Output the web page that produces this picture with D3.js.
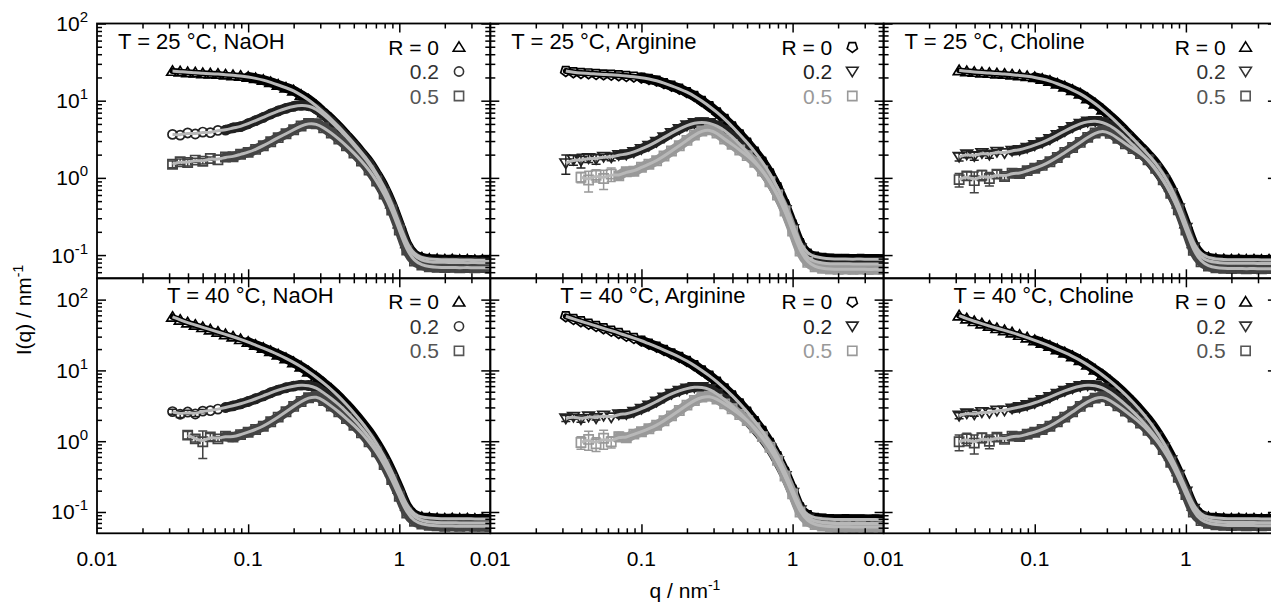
<!DOCTYPE html>
<html><head><meta charset="utf-8">
<script src="https://cdn.jsdelivr.net/npm/d3@7"></script>
<style>
body{margin:0;background:#fff;}
text{font-family:Arial,"Liberation Sans",Helvetica,sans-serif;}
</style></head><body>
<svg id="c" width="1271" height="608"></svg>
<script>
// ---------------- DATA ----------------
const q = [0.0316,0.0355,0.0398,0.0447,0.0501,0.0562,0.0631,0.0708,0.0794,0.0891,0.1,0.112,0.126,0.141,0.158,0.178,0.2,0.224,0.251,0.282,0.316,0.355,0.398,0.447,0.501,0.562,0.631,0.708,0.794,0.891,1.0,1.12,1.26,1.41,1.58,1.78,2.0,2.24,2.51,2.82,3.16,3.55,3.98,4.3];

const naoh25_R0  = [24.2,23.8,23.3,23.1,22.6,22.4,22.2,21.7,21.3,20.9,20.3,19.5,18.5,17.3,16.0,14.7,13.5,11.8,10.3,8.61,7.06,5.78,4.60,3.59,2.80,2.14,1.62,1.14,0.769,0.468,0.257,0.142,0.102,0.0923,0.0887,0.0878,0.0869,0.0874,0.0862,0.0866,0.0858,0.0861,0.0853,0.0856];
const naoh25_R02 = [3.66,3.58,3.82,3.70,3.92,3.85,4.12,4.16,4.44,4.62,5.03,5.51,6.09,6.72,7.35,7.96,8.45,8.71,8.61,7.80,6.52,5.35,4.30,3.38,2.64,2.02,1.53,1.08,0.716,0.435,0.240,0.132,0.0951,0.0853,0.0819,0.0803,0.0808,0.0799,0.0803,0.0796,0.0801,0.0794,0.0798,0.0792];
const naoh25_R05 = [1.50,1.62,1.58,1.70,1.64,1.78,1.72,1.86,1.88,2.02,2.14,2.34,2.61,2.94,3.32,3.73,4.21,4.70,5.08,5.03,4.47,3.81,3.18,2.61,2.10,1.65,1.26,0.910,0.617,0.383,0.211,0.116,0.0836,0.0741,0.0706,0.0695,0.0688,0.0692,0.0685,0.0690,0.0683,0.0688,0.0681,0.0686];
const naoh25_R05_err = [0.1,0.08,0.1,0.06,0.08,0.05];

const naoh40_R0  = [56.9,51.6,47.3,43.8,40.6,37.6,34.9,32.3,29.9,27.5,25.2,22.8,20.7,18.6,16.7,14.8,13.0,11.3,9.58,8.05,6.62,5.39,4.29,3.30,2.52,1.88,1.36,0.937,0.614,0.376,0.214,0.123,0.0917,0.0841,0.0823,0.0808,0.0802,0.0806,0.0799,0.0803,0.0796,0.0800,0.0794,0.0798];
const naoh40_R02 = [2.62,2.40,2.58,2.42,2.66,2.70,2.84,2.99,3.16,3.37,3.64,3.97,4.38,4.83,5.27,5.69,6.00,6.20,6.13,5.69,4.83,4.02,3.30,2.60,2.03,1.55,1.14,0.805,0.532,0.330,0.192,0.110,0.0841,0.0754,0.0721,0.0708,0.0702,0.0706,0.0699,0.0703,0.0697,0.0701,0.0695,0.0699];
const naoh40_R02_err = [0.08,0.1,0.06,0.08,0.05];
const naoh40_R05 = [null,null,1.22,1.08,0.98,1.15,1.08,1.18,1.14,1.24,1.34,1.46,1.63,1.88,2.19,2.60,3.10,3.64,4.10,4.29,3.76,3.13,2.60,2.09,1.68,1.31,0.979,0.706,0.468,0.287,0.167,0.0968,0.0738,0.0676,0.0647,0.0636,0.0630,0.0634,0.0628,0.0632,0.0626,0.0630,0.0624,0.0628];
const naoh40_R05_err = [0,0,0.12,0.1,0.42,0.12,0.08,0.06];

const arg25_R0  = [24.2,23.3,22.8,22.6,22.2,21.9,21.7,21.3,20.9,20.5,19.9,19.1,18.2,16.9,15.6,14.3,12.9,11.5,9.90,8.45,7.06,5.78,4.65,3.66,2.86,2.18,1.62,1.14,0.754,0.454,0.249,0.142,0.104,0.0951,0.0914,0.0896,0.0887,0.0891,0.0884,0.0888,0.0881,0.0885,0.0879,0.0883];
const arg25_R02 = [1.55,1.72,1.68,1.80,1.76,1.88,1.85,1.98,2.02,2.16,2.37,2.61,2.94,3.35,3.81,4.30,4.79,5.14,5.24,5.14,4.74,4.13,3.41,2.72,2.14,1.65,1.25,0.902,0.611,0.383,0.217,0.122,0.0906,0.0819,0.0787,0.0773,0.0768,0.0772,0.0766,0.0770,0.0764,0.0768,0.0762,0.0766];
const arg25_R02_err = [0.28,0.15,0.2,0.12,0.15,0.08,0.1,0.06];
const arg25_R05 = [null,null,1.02,0.94,1.08,0.98,1.12,1.06,1.20,1.22,1.37,1.50,1.67,1.92,2.23,2.61,3.06,3.59,4.05,4.21,3.81,3.18,2.72,2.30,1.94,1.59,1.23,0.892,0.600,0.372,0.205,0.113,0.0803,0.0706,0.0672,0.0661,0.0655,0.0659,0.0652,0.0657,0.0650,0.0655,0.0648,0.0653];
const arg25_R05_err = [0,0,0.15,0.3,0.18,0.28,0.2,0.12,0.1,0.08];

const arg40_R0  = [58.1,53.3,49.4,45.7,42.4,39.3,36.4,33.7,30.9,28.7,26.3,23.8,21.6,19.4,17.4,15.5,13.6,11.8,10.0,8.41,6.92,5.56,4.43,3.41,2.60,1.92,1.39,0.947,0.614,0.368,0.207,0.116,0.0897,0.0823,0.0805,0.0790,0.0784,0.0788,0.0781,0.0786,0.0779,0.0783,0.0777,0.0781];
const arg40_R02 = [2.10,2.22,2.05,2.24,2.12,2.30,2.18,2.40,2.42,2.60,2.87,3.20,3.64,4.15,4.68,5.15,5.56,5.81,5.81,5.44,4.68,3.89,3.16,2.52,1.96,1.50,1.11,0.787,0.521,0.323,0.186,0.106,0.0805,0.0738,0.0706,0.0694,0.0688,0.0692,0.0685,0.0690,0.0683,0.0688,0.0681,0.0686];
const arg40_R02_err = [0.1,0.08,0.1,0.06,0.06];
const arg40_R05 = [null,null,0.96,1.06,0.92,1.10,0.98,1.16,1.12,1.26,1.36,1.50,1.68,1.94,2.28,2.72,3.23,3.76,4.20,4.33,3.93,3.37,2.87,2.38,1.96,1.55,1.16,0.822,0.538,0.323,0.180,0.100,0.0738,0.0662,0.0634,0.0622,0.0616,0.0620,0.0613,0.0618,0.0611,0.0616,0.0609,0.0614];
const arg40_R05_err = [0,0,0.2,0.3,0.22,0.3,0.18,0.15,0.1,0.08];

const cho25_R0  = [24.7,24.0,23.5,23.1,22.8,22.4,22.2,21.7,21.3,20.7,20.1,19.1,18.0,16.6,15.2,13.7,12.3,10.7,9.14,7.64,6.27,5.08,4.05,3.22,2.56,2.02,1.56,1.13,0.769,0.468,0.257,0.142,0.102,0.0923,0.0887,0.0876,0.0870,0.0873,0.0866,0.0870,0.0863,0.0867,0.0860,0.0864];
const cho25_R02 = [1.88,2.02,1.92,2.10,2.00,2.18,2.10,2.25,2.30,2.46,2.66,2.88,3.18,3.59,4.05,4.56,5.03,5.35,5.45,5.24,4.74,4.05,3.32,2.66,2.14,1.69,1.28,0.929,0.636,0.403,0.226,0.126,0.0923,0.0836,0.0803,0.0788,0.0782,0.0786,0.0779,0.0784,0.0777,0.0781,0.0775,0.0779];
const cho25_R02_err = [0.12,0.1,0.12,0.08,0.1,0.06];
const cho25_R05 = [0.95,1.06,0.92,1.08,0.98,1.12,1.04,1.15,1.14,1.24,1.33,1.45,1.62,1.84,2.14,2.48,2.88,3.35,3.81,4.08,3.77,3.25,2.77,2.39,2.06,1.72,1.33,0.946,0.630,0.387,0.211,0.115,0.0819,0.0720,0.0685,0.0674,0.0668,0.0672,0.0665,0.0670,0.0663,0.0668,0.0661,0.0666];
const cho25_R05_err = [0.2,0.12,0.3,0.15,0.2,0.12,0.1,0.08];

const cho40_R0  = [59.4,53.8,49.4,45.7,42.4,39.3,36.8,34.1,31.6,29.0,26.6,24.4,22.1,19.8,17.8,15.8,13.9,12.0,10.2,8.59,7.06,5.74,4.57,3.56,2.72,2.03,1.45,0.979,0.627,0.376,0.214,0.123,0.0917,0.0841,0.0823,0.0808,0.0802,0.0806,0.0799,0.0803,0.0796,0.0800,0.0794,0.0798];
const cho40_R02 = [2.30,2.48,2.40,2.58,2.52,2.70,2.72,2.90,3.03,3.23,3.48,3.80,4.20,4.68,5.15,5.62,6.00,6.20,6.13,5.69,4.89,4.06,3.30,2.63,2.05,1.56,1.15,0.813,0.538,0.334,0.194,0.111,0.0849,0.0762,0.0729,0.0715,0.0709,0.0713,0.0706,0.0711,0.0704,0.0708,0.0702,0.0706];
const cho40_R02_err = [0.1,0.08,0.06];
const cho40_R05 = [0.98,1.08,0.94,1.12,1.00,1.14,1.06,1.18,1.16,1.26,1.34,1.46,1.63,1.88,2.19,2.60,3.10,3.61,4.06,4.24,3.76,3.16,2.66,2.19,1.80,1.42,1.07,0.762,0.505,0.310,0.176,0.100,0.0754,0.0692,0.0660,0.0650,0.0643,0.0647,0.0640,0.0645,0.0638,0.0642,0.0636,0.0641];
const cho40_R05_err = [0.25,0.2,0.3,0.15,0.22,0.12,0.1,0.08];

const titles = ["T = 25 °C, NaOH","T = 25 °C, Arginine","T = 25 °C, Choline","T = 40 °C, NaOH","T = 40 °C, Arginine","T = 40 °C, Choline"];
const legendLabels = ["R = 0","0.2","0.5"];
const xTickValues = [0.01,0.1,1];
const xTickLabels = ["0.01","0.1","1"];
const yTickExps = [2,1,0,-1];
const xDomain = [0.01,4];
const yDomainTop = [0.05,100];
const yDomainBottom = [0.05,200];

// ---------------- STYLE / LAYOUT ----------------
const W=1271,H=608;
const colX=[97,490.3,883.6], panelW=393.3;
const rowY=[[23.5,278.3],[278.3,533.3]];
const C0="#000", C2="#222", C5="#444", C5L="#999";
const FIT="#b8b8b8";
const svg=d3.select("#c");
svg.append("rect").attr("width",W).attr("height",H).attr("fill","#fff");

const shapes={
  triUp:"M0,-5.2L5.8,4.2L-5.8,4.2Z",
  triDown:"M0,5.2L5.8,-4.2L-5.8,-4.2Z",
  circle:d3.symbol(d3.symbolCircle,66)(),
  square:"M-4.6,-4.6H4.6V4.6H-4.6Z",
  pent:(()=>{const p=[];for(let k=0;k<5;k++){const a=Math.PI/2+k*2*Math.PI/5;p.push([5.4*Math.cos(a),5.4*Math.sin(a)]);}return "M"+p.map(d=>d.map(v=>v.toFixed(2)).join(",")).join("L")+"Z";})()
};

const panels=[
 {c:0,r:0,s:[[naoh25_R0,null,"triUp",C0],[naoh25_R02,null,"circle",C2],[naoh25_R05,naoh25_R05_err,"square",C5]],lc:[C0,"#333","#555"]},
 {c:1,r:0,s:[[arg25_R0,null,"pent",C0],[arg25_R02,arg25_R02_err,"triDown",C2],[arg25_R05,arg25_R05_err,"square",C5L]],lc:[C0,"#222",C5L]},
 {c:2,r:0,s:[[cho25_R0,null,"triUp",C0],[cho25_R02,cho25_R02_err,"triDown",C2],[cho25_R05,cho25_R05_err,"square",C5]],lc:[C0,"#333","#555"]},
 {c:0,r:1,s:[[naoh40_R0,null,"triUp",C0],[naoh40_R02,naoh40_R02_err,"circle",C2],[naoh40_R05,naoh40_R05_err,"square",C5]],lc:[C0,"#333","#555"]},
 {c:1,r:1,s:[[arg40_R0,null,"pent",C0],[arg40_R02,arg40_R02_err,"triDown",C2],[arg40_R05,arg40_R05_err,"square",C5L]],lc:[C0,"#222",C5L]},
 {c:2,r:1,s:[[cho40_R0,null,"triUp",C0],[cho40_R02,cho40_R02_err,"triDown",C2],[cho40_R05,cho40_R05_err,"square",C5]],lc:[C0,"#333","#555"]}
];

function minorTicks(lo,hi){const t=[];for(let e=-3;e<=3;e++){for(let m=2;m<=9;m++){const v=m*Math.pow(10,e);if(v>lo*1.0001&&v<hi*0.9999)t.push(v);}}return t;}
function majorTicks(lo,hi){const t=[];for(let e=-3;e<=3;e++){const v=Math.pow(10,e);if(v>=lo*0.9999&&v<=hi*1.0001)t.push(v);}return t;}

const defs=svg.append("defs");

panels.forEach((P,pi)=>{
  const x0=colX[P.c], x1=x0+panelW, y0=rowY[P.r][0], y1=rowY[P.r][1];
  const x=d3.scaleLog().domain(xDomain).range([x0,x1]);
  const y=d3.scaleLog().domain(P.r===0?yDomainTop:yDomainBottom).range([y1,y0]);
  const g=svg.append("g");
  defs.append("clipPath").attr("id","cp"+pi).append("rect").attr("x",x0).attr("y",y0).attr("width",panelW).attr("height",y1-y0);
  const dg=g.append("g").attr("clip-path",`url(#cp${pi})`);

  const pts=P.s.map(S=>q.map((qq,i)=>({q:qq,v:S[0][i],e:S[1]&&S[1][i]?S[1][i]:0,i})).filter(d=>d.v!=null));
  const band=d3.line().x(p=>x(p.q)).y(p=>y(p.v)).curve(d3.curveMonotoneX);
  // data
  P.s.forEach((S,si)=>{
    const col=S[3], d=pts[si];
    if(si===0){
      dg.append("path").attr("d",band(d)).attr("fill","none").attr("stroke",col).attr("stroke-width",6).attr("stroke-linecap","round");
    }
    dg.append("path").attr("d",band(d.filter(p=>p.i>=(si===0?10:7)))).attr("fill","none")
      .attr("stroke",col).attr("stroke-width",10).attr("stroke-linecap","round");
    const eb=d.filter(p=>p.e>0);
    dg.selectAll(null).data(eb).join("path")
      .attr("d",p=>{const xx=x(p.q),ya=y(p.v*(1+p.e)),yb=y(p.v*(1-p.e));return `M${xx},${ya}V${yb}M${xx-4.5},${ya}H${xx+4.5}M${xx-4.5},${yb}H${xx+4.5}`;})
      .attr("fill","none").attr("stroke",col).attr("stroke-width",1.5);
    dg.selectAll(null).data(d).join("path")
      .attr("d",shapes[S[2]]).attr("transform",p=>`translate(${x(p.q)},${y(p.v)})`)
      .attr("fill","none").attr("stroke",col).attr("stroke-width",1.7);
  });
  // fits
  P.s.forEach((S,si)=>{
    const fit=d3.line().x(p=>x(p.q)).y(p=>y(p.v)).curve(d3.curveBasis);
    dg.append("path").attr("d",fit(pts[si])).attr("fill","none").attr("stroke",FIT).attr("stroke-width",3);
  });

  // axes ticks (inward)
  const xmaj=majorTicks(...xDomain).filter(v=>v>xDomain[0]), xmin=minorTicks(...xDomain);
  const yd=y.domain(), ymaj=majorTicks(...yd), ymin=minorTicks(...yd);
  const axes=[
    [d3.axisBottom,`translate(0,${y1})`,x,xmaj,9],[d3.axisBottom,`translate(0,${y1})`,x,xmin,5],
    [d3.axisTop,`translate(0,${y0})`,x,xmaj,9],[d3.axisTop,`translate(0,${y0})`,x,xmin,5],
    [d3.axisLeft,`translate(${x0},0)`,y,ymaj,9],[d3.axisLeft,`translate(${x0},0)`,y,ymin,5],
    [d3.axisRight,`translate(${x1},0)`,y,ymaj,9],[d3.axisRight,`translate(${x1},0)`,y,ymin,5]
  ];
  axes.forEach(([fn,tr,sc,tv,len])=>{
    const a=g.append("g").attr("transform",tr).call(fn(sc).tickValues(tv).tickSize(-len).tickFormat(""));
    a.select(".domain").remove();
    a.selectAll("line").attr("stroke","#000").attr("stroke-width",1.5);
  });
  g.append("rect").attr("x",x0).attr("y",y0).attr("width",panelW).attr("height",y1-y0)
    .attr("fill","none").attr("stroke","#000").attr("stroke-width",1.8);

  // title
  g.append("text").attr("x",x0+(P.r===0?21:70)).attr("y",y0+(P.r===0?25:24.7))
    .attr("font-size",22).attr("fill","#000").text(titles[P.r*3+P.c]);
  // legend
  const lb=[31,55.5,80];
  legendLabels.forEach((L,k)=>{
    g.append("text").attr("x",x0+342).attr("y",y0+lb[k]).attr("text-anchor","end")
      .attr("font-size",21).attr("fill",P.lc[k]).text(L);
    g.append("path").attr("d",shapes[P.s[k][2]]).attr("transform",`translate(${x0+362},${y0+lb[k]-7.5})`)
      .attr("fill","none").attr("stroke",P.lc[k]).attr("stroke-width",1.6);
  });

  // tick labels
  if(P.r===1){
    xTickValues.forEach((v,k)=>{
      g.append("text").attr("x",x(v)).attr("y",566).attr("text-anchor","middle").attr("font-size",21).text(xTickLabels[k]);
    });
  }
  if(P.c===0){
    yTickExps.forEach(e=>{
      const t=g.append("text").attr("x",88).attr("y",y(Math.pow(10,e))+7.5).attr("text-anchor","end").attr("font-size",21);
      t.append("tspan").text("10");
      t.append("tspan").attr("dy",-9).attr("font-size",15).text(String(e));
    });
  }
});

// axis titles
const yt=svg.append("text").attr("transform","translate(31,310) rotate(-90)").attr("text-anchor","middle").attr("font-size",21);
yt.append("tspan").text("I(q) / nm");
yt.append("tspan").attr("dy",-8).attr("font-size",14).text("-1");
const xt=svg.append("text").attr("x",685).attr("y",598).attr("text-anchor","middle").attr("font-size",21);
xt.append("tspan").text("q / nm");
xt.append("tspan").attr("dy",-8).attr("font-size",14).text("-1");
</script>
</body></html>
